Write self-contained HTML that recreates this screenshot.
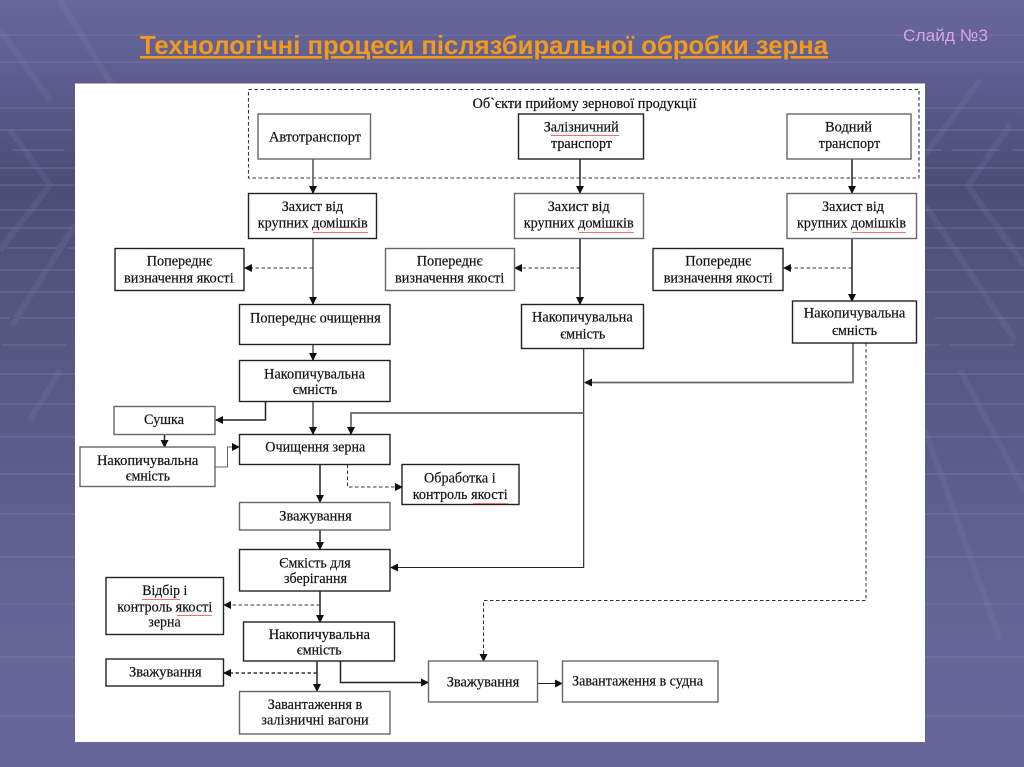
<!DOCTYPE html>
<html><head><meta charset="utf-8"><style>
html,body{margin:0;padding:0;background:#5a5a8a;width:1024px;height:767px;overflow:hidden}
svg{display:block}
.t{font-family:"Liberation Serif",serif;font-size:14.5px;fill:#111;stroke:#111;stroke-width:.2px}
.b{fill:#fff;stroke:#222;stroke-width:1.4}
.g{fill:#fff;stroke:#666;stroke-width:1.4}
.c{fill:none;stroke:#222;stroke-width:1.5}
.c2{fill:none;stroke:#666;stroke-width:1.7}
.d{fill:none;stroke:#333;stroke-width:1;stroke-dasharray:3.5 2.5}
.sq{fill:none;stroke:#ee7070;stroke-width:1}
.hl{stroke:#7c7cae;stroke-width:1.6;opacity:.45;fill:none}
.dg{fill:none;stroke:#8080ad;stroke-width:6;opacity:.2}
</style></head><body>
<svg width="1024" height="767" viewBox="0 0 1024 767" xmlns="http://www.w3.org/2000/svg">
<defs>
<linearGradient id="bg" x1="0" y1="0" x2="0" y2="1">
<stop offset="0" stop-color="#67679c"/><stop offset=".1" stop-color="#5d5d90"/><stop offset=".24" stop-color="#4c4c76"/><stop offset=".4" stop-color="#55557f"/><stop offset=".6" stop-color="#5c5c8c"/><stop offset=".85" stop-color="#666698"/><stop offset="1" stop-color="#666699"/>
</linearGradient>
<marker id="a" markerWidth="8" markerHeight="8" refX="7" refY="4" orient="auto" markerUnits="userSpaceOnUse"><path d="M0 0L8 4L0 8Z" fill="#111"/></marker>
</defs>
<rect width="1024" height="767" fill="url(#bg)"/>
<g class="hl">
<path d="M0 35H1024M0 62H1024"/>
<path d="M0 108H75M925 108H1024M0 130H72M925 130H1024"/>
<path d="M12 150H64M925 150H942M952 150H1000M1012 150H1024"/>
<path d="M0 168H75M925 168H1024"/>
<path d="M0 185H75M925 185H1024"/>
<path d="M0 210H75M925 210H1024"/>
<path d="M0 228H72M925 228H1024M6 248H58M68 248H75M925 248H1024"/>
<path d="M0 270H75M925 270H1024M0 292H75M925 292H1024M0 318H10M20 318H75M935 318H1024"/>
<path d="M2 345H66M925 345H940M950 345H1015"/>
<path d="M0 374H75M925 374H1024M0 404H75M925 404H1024M0 437H75M925 437H1024M0 474H75M925 474H1024M0 514H75M925 514H1024"/>
<path d="M0 557H75M925 557H1024M0 604H75M925 604H1024M0 657H75M925 657H1024M0 716H75M925 716H1024"/>
</g>
<g class="dg">
<path d="M60 0L112 85M0 30L50 100"/>
<path d="M10 130L50 185L0 250"/>
<path d="M75 225L12 325M60 370L30 420"/>
<path d="M980 80L925 155M1010 125L968 186L1024 265"/>
<path d="M925 205L1015 340M960 370L1024 490M925 430L1000 640"/>
</g>
<text x="140" y="54" font-family="'Liberation Sans',sans-serif" font-weight="bold" font-size="26px" fill="#f39a1c" text-decoration="underline" textLength="688" lengthAdjust="spacingAndGlyphs">Технологічні процеси післязбиральної обробки зерна</text>
<text x="903" y="41" font-family="'Liberation Sans',sans-serif" font-size="17px" fill="#d8a4e4" textLength="85" lengthAdjust="spacingAndGlyphs">Слайд №3</text>

<rect x="75" y="83.5" width="850" height="658.5" fill="#fff"/>

<rect x="248.5" y="89.5" width="670.5" height="88.5" fill="none" stroke="#333" stroke-width="1.1" stroke-dasharray="3.5 2.5"/>

<path class="c2" d="M313 159V193" marker-end="url(#a)"/>
<path class="c2" d="M313 238.5V304" marker-end="url(#a)"/>
<path class="c2" d="M313 344.5V360" marker-end="url(#a)"/>
<path class="c2" d="M313 401.5V434" marker-end="url(#a)"/>
<path class="d" d="M313 268H245" marker-end="url(#a)"/>
<path class="c" d="M580 159V193" marker-end="url(#a)"/>
<path class="c" d="M580 238.5V304" marker-end="url(#a)"/>
<path class="d" d="M580 268H515" marker-end="url(#a)"/>
<path class="c" d="M852 159V193" marker-end="url(#a)"/>
<path class="c" d="M852 238.5V301" marker-end="url(#a)"/>
<path class="d" d="M852 268H784" marker-end="url(#a)"/>
<path class="c" d="M265.5 401.5V420H216" marker-end="url(#a)"/>
<path class="c" d="M164.5 434.5V447" marker-end="url(#a)"/>
<path class="c2" style="stroke-width:1" d="M215 467H227.5V447H239" marker-end="url(#a)"/>
<path class="c" d="M320 464.5V502" marker-end="url(#a)"/>
<path class="c" d="M320 530V549" marker-end="url(#a)"/>
<path class="d" d="M347.5 464.5V487H402" marker-end="url(#a)"/>
<path class="c" d="M320 591V622" marker-end="url(#a)"/>
<path class="d" d="M320 605H224" marker-end="url(#a)"/>
<path class="c" d="M317 661V691" marker-end="url(#a)"/>
<path class="d" style="stroke-width:1.4" d="M317 673H224" marker-end="url(#a)"/>
<path class="c" d="M340.5 661V682.5H428" marker-end="url(#a)"/>
<path class="d" d="M866 343V600.5H483.5V661" marker-end="url(#a)"/>
<path class="c" style="stroke-width:1.1" d="M583.7 348.5V567.5H391" marker-end="url(#a)"/>
<path class="c2" d="M583.7 413H351V434" marker-end="url(#a)"/>
<path class="c2" d="M853 343V382.5H585" marker-end="url(#a)"/>
<path class="c" style="stroke-width:1" d="M537.5 683.5H562" marker-end="url(#a)"/>

<rect class="g" x="258" y="114" width="112.5" height="45"/>
<rect class="b" x="518.5" y="114" width="125" height="45"/>
<rect class="g" x="787" y="114" width="124" height="45"/>
<rect class="b" x="248.5" y="193.5" width="128" height="45"/>
<rect class="g" x="514.5" y="193.5" width="129" height="45"/>
<rect class="g" x="787" y="193.5" width="129.5" height="45"/>
<rect class="b" x="115" y="248.5" width="129" height="42"/>
<rect class="g" x="385.5" y="248.5" width="129" height="42"/>
<rect class="b" x="653" y="248.5" width="130" height="42"/>
<rect class="b" x="239.5" y="304.5" width="150.5" height="40"/>
<rect class="b" x="521.5" y="304.5" width="122" height="44"/>
<rect class="b" x="792.5" y="301" width="124" height="42"/>
<rect class="b" x="239.5" y="360.5" width="150.5" height="41"/>
<rect class="g" x="114" y="406.5" width="101" height="28"/>
<rect class="g" x="80" y="447" width="135" height="39.5"/>
<rect class="b" x="239.5" y="434.5" width="150.5" height="30"/>
<rect class="b" x="402" y="464.5" width="117" height="40"/>
<rect class="g" x="239.5" y="502.5" width="150.5" height="27.5"/>
<rect class="b" x="239.5" y="549.5" width="150.5" height="41.5"/>
<rect class="b" x="106" y="577.5" width="117.5" height="57"/>
<rect class="b" x="243.5" y="622" width="151" height="39"/>
<rect class="b" x="106" y="659" width="117.5" height="27"/>
<rect class="g" x="239.5" y="691.5" width="150.5" height="42.5"/>
<rect class="g" x="428.5" y="661" width="109" height="41"/>
<rect class="g" x="562.5" y="661" width="155.5" height="41"/>

<text class="t" x="472.5" y="108" textLength="224" lengthAdjust="spacingAndGlyphs">Об`єкти прийому зернової продукції</text>
<text class="t" x="269" y="141.5" textLength="92" lengthAdjust="spacingAndGlyphs">Автотранспорт</text>
<text class="t" x="543.7" y="131.5" textLength="75" lengthAdjust="spacingAndGlyphs">Залізничний</text>
<text class="t" x="551" y="148" textLength="61" lengthAdjust="spacingAndGlyphs">транспорт</text>
<text class="t" x="825" y="131.5" textLength="47" lengthAdjust="spacingAndGlyphs">Водний</text>
<text class="t" x="818.7" y="148" textLength="61.5" lengthAdjust="spacingAndGlyphs">транспорт</text>
<text class="t" x="281.7" y="211" textLength="61.5" lengthAdjust="spacingAndGlyphs">Захист від</text>
<text class="t" x="257.7" y="227.7" textLength="110" lengthAdjust="spacingAndGlyphs">крупних домішків</text>
<text class="t" x="547.7" y="211" textLength="62" lengthAdjust="spacingAndGlyphs">Захист від</text>
<text class="t" x="523.7" y="227.7" textLength="110" lengthAdjust="spacingAndGlyphs">крупних домішків</text>
<text class="t" x="822" y="211" textLength="62" lengthAdjust="spacingAndGlyphs">Захист від</text>
<text class="t" x="797" y="227.7" textLength="109" lengthAdjust="spacingAndGlyphs">крупних домішків</text>
<text class="t" x="146.7" y="265.7" textLength="65.6" lengthAdjust="spacingAndGlyphs">Попереднє</text>
<text class="t" x="124" y="282.3" textLength="109.7" lengthAdjust="spacingAndGlyphs">визначення якості</text>
<text class="t" x="416.7" y="265.7" textLength="66" lengthAdjust="spacingAndGlyphs">Попереднє</text>
<text class="t" x="395" y="282.3" textLength="109.3" lengthAdjust="spacingAndGlyphs">визначення якості</text>
<text class="t" x="685.3" y="265.7" textLength="66" lengthAdjust="spacingAndGlyphs">Попереднє</text>
<text class="t" x="663.7" y="282.3" textLength="109" lengthAdjust="spacingAndGlyphs">визначення якості</text>
<text class="t" x="250" y="322.3" textLength="130.7" lengthAdjust="spacingAndGlyphs">Попереднє очищення</text>
<text class="t" x="532" y="321.7" textLength="100.7" lengthAdjust="spacingAndGlyphs">Накопичувальна</text>
<text class="t" x="560.3" y="338.3" textLength="45" lengthAdjust="spacingAndGlyphs">ємність</text>
<text class="t" x="803.7" y="317.7" textLength="101.6" lengthAdjust="spacingAndGlyphs">Накопичувальна</text>
<text class="t" x="832" y="335" textLength="45" lengthAdjust="spacingAndGlyphs">ємність</text>
<text class="t" x="264" y="378.3" textLength="101" lengthAdjust="spacingAndGlyphs">Накопичувальна</text>
<text class="t" x="292.7" y="394" textLength="44.6" lengthAdjust="spacingAndGlyphs">ємність</text>
<text class="t" x="144" y="424" textLength="40" lengthAdjust="spacingAndGlyphs">Сушка</text>
<text class="t" x="97" y="465" textLength="101.3" lengthAdjust="spacingAndGlyphs">Накопичувальна</text>
<text class="t" x="125.7" y="480.7" textLength="44.3" lengthAdjust="spacingAndGlyphs">ємність</text>
<text class="t" x="265.3" y="451.7" textLength="100" lengthAdjust="spacingAndGlyphs">Очищення зерна</text>
<text class="t" x="424" y="482.3" textLength="71.7" lengthAdjust="spacingAndGlyphs">Обработка і</text>
<text class="t" x="412.7" y="499" textLength="95" lengthAdjust="spacingAndGlyphs">контроль якості</text>
<text class="t" x="279.3" y="520.7" textLength="72.4" lengthAdjust="spacingAndGlyphs">Зважування</text>
<text class="t" x="279.3" y="567.3" textLength="71.4" lengthAdjust="spacingAndGlyphs">Ємкість для</text>
<text class="t" x="284" y="583" textLength="63" lengthAdjust="spacingAndGlyphs">зберігання</text>
<text class="t" x="142.3" y="595" textLength="45" lengthAdjust="spacingAndGlyphs">Відбір і</text>
<text class="t" x="117.3" y="611.3" textLength="95" lengthAdjust="spacingAndGlyphs">контроль якості</text>
<text class="t" x="148.3" y="626.7" textLength="32.4" lengthAdjust="spacingAndGlyphs">зерна</text>
<text class="t" x="268.7" y="639" textLength="101.3" lengthAdjust="spacingAndGlyphs">Накопичувальна</text>
<text class="t" x="296.7" y="654.7" textLength="45" lengthAdjust="spacingAndGlyphs">ємність</text>
<text class="t" x="129" y="676.3" textLength="72.7" lengthAdjust="spacingAndGlyphs">Зважування</text>
<text class="t" x="267.7" y="709" textLength="94.6" lengthAdjust="spacingAndGlyphs">Завантаження в</text>
<text class="t" x="261.3" y="724.7" textLength="107.4" lengthAdjust="spacingAndGlyphs">залізничні вагони</text>
<text class="t" x="446.7" y="686.7" textLength="72.6" lengthAdjust="spacingAndGlyphs">Зважування</text>
<text class="t" x="572" y="685.7" textLength="131" lengthAdjust="spacingAndGlyphs">Завантаження в судна</text>

<path class="sq" d="M313 232.5H368M579 232.5H634M852 232.5H906M551 135.5H619M473 503.5H508M177 615.5H212M142 599.5H180"/>
</svg>
</body></html>
